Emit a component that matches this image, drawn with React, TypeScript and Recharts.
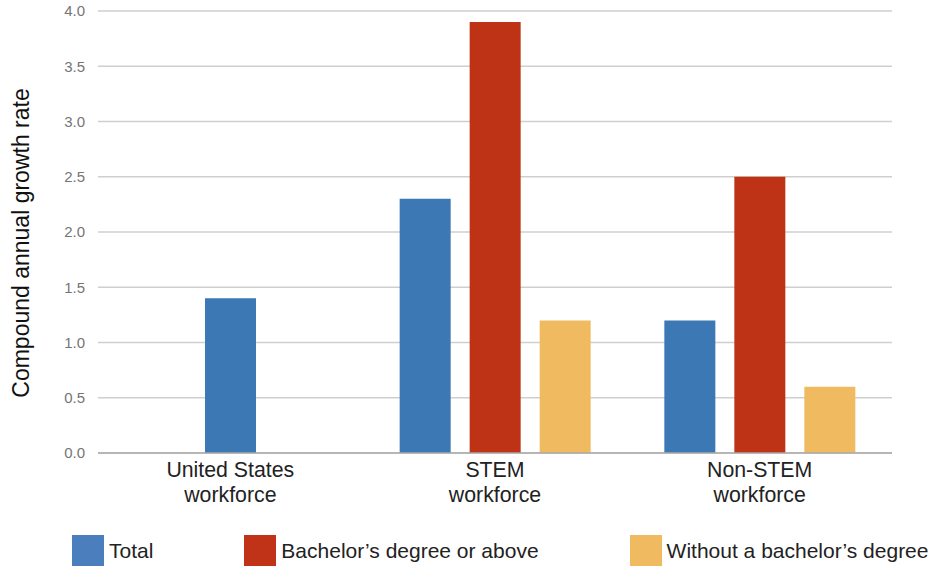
import { BarChart, Bar, XAxis, YAxis, CartesianGrid, Cell, Legend } from "recharts";

const categories = ["United States\nworkforce", "STEM\nworkforce", "Non-STEM\nworkforce"];
const seriesNames = ["Total", "Bachelor’s degree or above", "Without a bachelor’s degree"];
const total: (number | null)[] = [1.4, 2.3, 1.2];
const bachelor: (number | null)[] = [null, 3.9, 2.5];
const withoutDegree: (number | null)[] = [null, 1.2, 0.6];
const yTicks = [0, 0.5, 1, 1.5, 2, 2.5, 3, 3.5, 4];

const COLORS = ["#3c78b3", "#be3216", "#f0bb60"];
const LEGEND_COLORS = ["#4a7ebd", "#c03318", "#f0bb60"];
const FONT = '"Liberation Sans", Arial, sans-serif';

// a category with a single value gets its bar centred in the group (like the original)
const series = [total, bachelor, withoutDegree];
const data = categories.map((label, i) => {
  const all = series.map((s, k) => ({ v: s[i], k }));
  const present = all.filter((p) => p.v != null);
  const slots = present.length === 1 ? [null, present[0], null] : all;
  return {
    label,
    s0: slots[0]?.v ?? null,
    s1: slots[1]?.v ?? null,
    s2: slots[2]?.v ?? null,
    c0: slots[0]?.k ?? 0,
    c1: slots[1]?.k ?? 1,
    c2: slots[2]?.k ?? 2,
  };
});

function CategoryTick({ x, y, payload }: any) {
  const lines = String(payload.value).split("\n");
  return (
    <text x={x} y={y} textAnchor="middle" fill="#222" fontSize={21.3} fontFamily={FONT}>
      {lines.map((l, i) => (
        <tspan key={i} x={x} dy={i === 0 ? 16 : 25}>
          {l}
        </tspan>
      ))}
    </text>
  );
}

function LegendRow() {
  return (
    <div
      style={{
        display: "flex",
        paddingLeft: 72,
        gap: 91,
        fontFamily: FONT,
        fontSize: 21,
        color: "#222",
        whiteSpace: "nowrap",
      }}
    >
      {seriesNames.map((n, i) => (
        <div key={n} style={{ display: "flex", alignItems: "center" }}>
          <span
            style={{ width: 32, height: 32, background: LEGEND_COLORS[i], marginRight: 5, display: "inline-block" }}
          />
          {n}
        </div>
      ))}
    </div>
  );
}

export default function App() {
  return (
    <div style={{ position: "absolute", left: 0, top: 0, width: 936, height: 566, background: "#fff" }}>
      <BarChart
        width={936}
        height={566}
        data={data}
        margin={{ top: 11, right: 44, left: 0, bottom: 83 }}
        barSize={51}
        barGap={19}
      >
        <CartesianGrid vertical={false} stroke="#cfcfcf" strokeWidth={1.5} />
        <XAxis
          dataKey="label"
          height={30}
          tick={<CategoryTick />}
          tickLine={false}
          axisLine={{ stroke: "#aaaaaa", strokeWidth: 1.5 }}
          interval={0}
        />
        <YAxis
          width={98}
          domain={[0, 4]}
          ticks={yTicks}
          tickFormatter={(v) => Number(v).toFixed(1)}
          tick={{ fill: "#757575", fontSize: 15, fontFamily: FONT }}
          tickLine={false}
          axisLine={false}
          tickMargin={7}
          label={{
            content: () => (
              <text
                transform="translate(29, 243) rotate(-90)"
                textAnchor="middle"
                fontSize={23}
                fontFamily={FONT}
                fill="#111"
              >
                Compound annual growth rate
              </text>
            ),
          }}
        />
        <Legend
          layout="horizontal"
          verticalAlign="middle"
          align="center"
          content={() => <LegendRow />}
          wrapperStyle={{ left: 0, top: 535, width: 936, height: 32 }}
        />
        {(["s0", "s1", "s2"] as const).map((key, j) => (
          <Bar key={key} dataKey={key} isAnimationActive={false}>
            {data.map((d, i) => (
              <Cell key={i} fill={COLORS[d[`c${j}` as "c0" | "c1" | "c2"]]} />
            ))}
          </Bar>
        ))}
      </BarChart>
    </div>
  );
}
